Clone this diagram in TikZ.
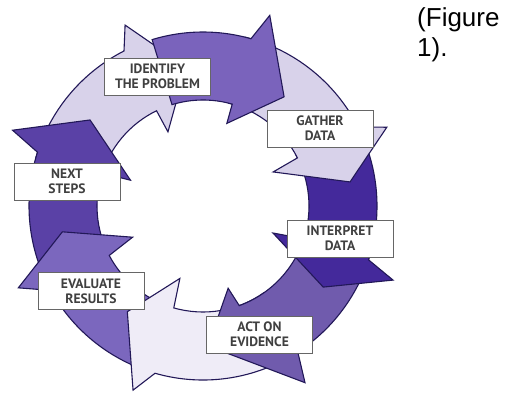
\documentclass[tikz,border=0pt]{standalone}
\usepackage{fontspec}
\setmainfont{Liberation Sans}
\newfontfamily\stagefont{PT Sans}
\usetikzlibrary{positioning}

\definecolor{plumdark}{HTML}{5A41A6}
\definecolor{plumdeep}{HTML}{44299B}
\definecolor{plummid}{HTML}{7A63BC}
\definecolor{plumsoft}{HTML}{7B67BE}
\definecolor{lilac}{HTML}{D8D2EA}
\definecolor{lilacpale}{HTML}{EFECF7}
\definecolor{rim}{HTML}{221858}

\begin{document}
\begin{tikzpicture}[x=1pt,y=-1pt,
    band/.style={draw=rim,line width=1.1pt,line join=miter},
    stage/.style={draw=black!60,fill=white,line width=0.7pt,minimum width=106pt,minimum height=37pt,inner sep=0pt,align=center,text=black!75,
      font=\stagefont\bfseries\fontsize{13.6}{15}\selectfont}]
  \useasboundingbox (0,0) rectangle (505,392);

  % the eight bands of the ring, drawn so each head sits on the right tail
  \begin{scope}[shift={(203,206)}]
    \path[band,fill=lilac] (164:174pt) arc[start angle=164,end angle=117,radius=174pt] -- (113.3:197pt) -- (97:140pt) -- (115.3:82pt) -- (116:106pt) arc[start angle=116,end angle=164,radius=106pt] -- cycle;
    \path[band,fill=plumdark] (207.5:174pt) arc[start angle=207.5,end angle=162,radius=174pt] -- (158.3:205pt) -- (142.7:142pt) -- (160.4:77pt) -- (162:106pt) arc[start angle=162,end angle=207.5,radius=106pt] -- cycle;
    \path[band,fill=plumsoft] (252:174pt) arc[start angle=252,end angle=209,radius=174pt] -- (203.9:202pt) -- (190.4:143pt) -- (203.9:77pt) -- (207.8:106pt) arc[start angle=207.8,end angle=252,radius=106pt] -- cycle;
    \path[band,fill=lilacpale] (305:174pt) arc[start angle=305,end angle=254,radius=174pt] -- (249.2:197pt) -- (234.4:130pt) -- (252.3:76pt) -- (254:106pt) arc[start angle=254,end angle=305,radius=106pt] -- cycle;
    \path[band,fill=plummid!92!black] (-16:174pt) arc[start angle=-16,end angle=-57,radius=174pt] -- (-60:204pt) -- (-88:140pt) -- (-73:86pt) -- (-70:106pt) arc[start angle=-70,end angle=-16,radius=106pt] -- cycle;
    \path[band,fill=plumdeep] (29:174pt) arc[start angle=29,end angle=-18,radius=174pt] -- (-21.3:204pt) -- (-34:145pt) -- (-21.1:75pt) -- (-18:106pt) arc[start angle=-18,end angle=29,radius=106pt] -- cycle;
    \path[band,fill=lilac] (76:174pt) arc[start angle=76,end angle=27,radius=174pt] -- (23.2:200pt) -- (9.3:149pt) -- (25.9:78pt) -- (27:106pt) arc[start angle=27,end angle=76,radius=106pt] -- cycle;
    \path[band,fill=plummid] (107:174pt) arc[start angle=107,end angle=74,radius=174pt] -- (70.7:202pt) -- (53.4:136pt) -- (73.9:86pt) -- (74:106pt) arc[start angle=74,end angle=107,radius=106pt] -- cycle;
  \end{scope}

  \node[stage] (identify)  at (157.5,76.5) {IDENTIFY\\THE PROBLEM};
  \node[stage] (gather)    at (320,128.5)  {GATHER\\DATA};
  \node[stage] (interpret) at (340,238.5)  {INTERPRET\\DATA};
  \node[stage] (act)       at (259.5,334.5) {ACT ON\\EVIDENCE};
  \node[stage] (evaluate)  at (91,291)     {EVALUATE\\RESULTS};
  \node[stage] (next)      at (67,181.5)   {NEXT\\STEPS};

  \node (fig) [anchor=base west,inner sep=0pt,font=\fontsize{26}{30}\selectfont] at (417,26.5) {(Figure};
  \node (fignum) [anchor=base west,inner sep=0pt,font=\fontsize{26}{30}\selectfont,yshift=-30pt] at (fig.base west) {1).};
\end{tikzpicture}
\end{document}
